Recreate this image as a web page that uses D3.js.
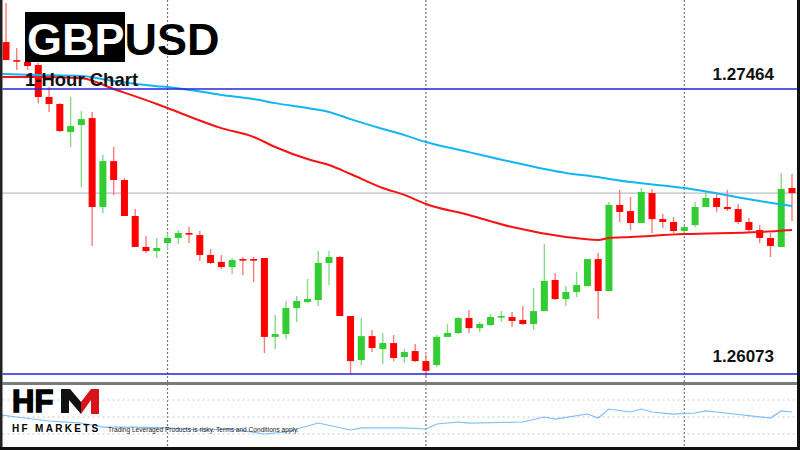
<!DOCTYPE html>
<html>
<head>
<meta charset="utf-8">
<script src="https://cdn.jsdelivr.net/npm/d3@7"></script>
<style>
  html, body { margin: 0; padding: 0; background: #fff; }
  svg { display: block; }
</style>
</head>
<body>
<svg id="chart" width="800" height="450"></svg>
<script>
// GBPUSD H1 candles
const opens = [
  1.27693, 1.27605, 1.27596, 1.27581, 1.27425, 1.27391, 1.27254, 1.27288, 1.27322, 1.26888,
  1.27112, 1.27020, 1.26844, 1.26693, 1.26673, 1.26712, 1.26737, 1.26761, 1.26751, 1.26654,
  1.26620, 1.26595, 1.26634, 1.26634, 1.26639, 1.26254, 1.26268, 1.26395, 1.26424, 1.26434,
  1.26615, 1.26644, 1.26356, 1.26141, 1.26258, 1.26195, 1.26224, 1.26156, 1.26185, 1.26136,
  1.26117, 1.26254, 1.26273, 1.26346, 1.26297, 1.26312, 1.26351, 1.26351, 1.26337, 1.26317,
  1.26380, 1.26532, 1.26439, 1.26473, 1.26502, 1.26634, 1.26478, 1.26898, 1.26868, 1.26810,
  1.26956, 1.26829, 1.26815, 1.26771, 1.26800, 1.26888, 1.26932, 1.26888, 1.26878, 1.26815,
  1.26776, 1.26737, 1.26693, 1.26981
];
const highs = [
  1.27884, 1.27664, 1.27625, 1.27591, 1.27474, 1.27395, 1.27425, 1.27356, 1.27352, 1.27142,
  1.27181, 1.27030, 1.26878, 1.26746, 1.26737, 1.26761, 1.26776, 1.26790, 1.26771, 1.26683,
  1.26654, 1.26639, 1.26644, 1.26644, 1.26639, 1.26361, 1.26429, 1.26454, 1.26537, 1.26673,
  1.26673, 1.26649, 1.26356, 1.26346, 1.26288, 1.26273, 1.26263, 1.26195, 1.26219, 1.26166,
  1.26263, 1.26317, 1.26351, 1.26385, 1.26327, 1.26366, 1.26380, 1.26376, 1.26405, 1.26493,
  1.26707, 1.26566, 1.26502, 1.26571, 1.26634, 1.26663, 1.26912, 1.26971, 1.26937, 1.26981,
  1.26976, 1.26854, 1.26839, 1.26795, 1.26912, 1.26966, 1.26956, 1.26971, 1.26903, 1.26834,
  1.26800, 1.26761, 1.27054, 1.27049
];
const lows = [
  1.27605, 1.27557, 1.27557, 1.27395, 1.27352, 1.27254, 1.27181, 1.26986, 1.26698, 1.26859,
  1.26947, 1.26844, 1.26693, 1.26663, 1.26639, 1.26678, 1.26707, 1.26712, 1.26624, 1.26610,
  1.26585, 1.26561, 1.26556, 1.26522, 1.26175, 1.26195, 1.26244, 1.26327, 1.26420, 1.26405,
  1.26507, 1.26356, 1.26073, 1.26117, 1.26180, 1.26122, 1.26136, 1.26127, 1.26132, 1.26058,
  1.26107, 1.26254, 1.26268, 1.26273, 1.26278, 1.26307, 1.26327, 1.26302, 1.26312, 1.26288,
  1.26380, 1.26434, 1.26405, 1.26449, 1.26502, 1.26341, 1.26478, 1.26815, 1.26776, 1.26810,
  1.26761, 1.26786, 1.26761, 1.26761, 1.26790, 1.26888, 1.26864, 1.26868, 1.26805, 1.26766,
  1.26712, 1.26644, 1.26693, 1.26820
];
const closes = [
  1.27605, 1.27600, 1.27576, 1.27425, 1.27391, 1.27259, 1.27283, 1.27317, 1.26888, 1.27112,
  1.27020, 1.26844, 1.26693, 1.26673, 1.26688, 1.26737, 1.26761, 1.26756, 1.26654, 1.26615,
  1.26595, 1.26629, 1.26629, 1.26629, 1.26254, 1.26268, 1.26395, 1.26429, 1.26439, 1.26615,
  1.26644, 1.26356, 1.26136, 1.26258, 1.26200, 1.26224, 1.26151, 1.26180, 1.26136, 1.26088,
  1.26254, 1.26273, 1.26346, 1.26297, 1.26317, 1.26351, 1.26356, 1.26332, 1.26317, 1.26380,
  1.26527, 1.26439, 1.26473, 1.26507, 1.26634, 1.26478, 1.26898, 1.26864, 1.26810, 1.26961,
  1.26829, 1.26815, 1.26771, 1.26790, 1.26888, 1.26932, 1.26888, 1.26878, 1.26815, 1.26776,
  1.26737, 1.26698, 1.26976, 1.26956
];

// moving averages, sampled at candle positions
const maIdx = [-0.4, 3, 7, 10, 14, 15, 20, 23, 25, 28, 30, 32, 35, 37, 39, 43, 47, 52, 55, 56, 58, 63, 70, 73];
const maFast = [1.27522, 1.27522, 1.27517, 1.27464, 1.27391, 1.27371, 1.27273, 1.27230, 1.27181, 1.27122, 1.27093, 1.27049,
  1.26981, 1.26947, 1.26903, 1.26849, 1.26790, 1.26742, 1.26727, 1.26737, 1.26742, 1.26756, 1.26766, 1.26776];
const maSlow = [1.27537, 1.27532, 1.27527, 1.27503, 1.27478, 1.27474, 1.27435, 1.27415, 1.27395, 1.27371, 1.27352, 1.27317,
  1.27269, 1.27239, 1.27205, 1.27156, 1.27108, 1.27054, 1.27034, 1.27025, 1.27010, 1.26981, 1.26917, 1.26893];

// lower oscillator panel
const oscIdx = [-0.5, 1, 4, 7, 9, 12, 15, 18, 21, 24, 26, 27, 29, 32, 33, 37, 39, 40, 42, 43,
  48, 50, 51, 54, 55, 56, 58, 59, 60, 62, 64, 65, 66, 71, 72, 73];
const osc = [52.4, 50, 45.3, 42.9, 38.2, 38.2, 37.1, 34.7, 35.9, 30, 32.4, 35.9, 42.9, 34.7, 37.1, 37.1, 35.9, 41.8, 44.1, 42.9,
  44.1, 50, 47.6, 53.5, 48.8, 59.4, 55.9, 59.4, 55.9, 53.5, 54.7, 57.1, 55.9, 48.8, 57.1, 55.9];
const oscLevels = [70, 50, 30];

const levels = [1.27464, 1.26073];
const levelLabels = ['1.27464', '1.26073'];
const lastPrice = 1.26956;
const sessionBreaks = [15, 39, 63];

const svg = d3.select('#chart');
const W = 800, H = 450;
const left = 2.5, right = 797, panelTop = 382, bottom = 447;

const x = d3.scaleLinear().domain([0, opens.length - 1]).range([6, 792]);
const y = d3.scaleLinear().domain([1.26073, 1.27464]).range([374, 89]);
const yOsc = d3.scaleLinear().domain([30, 70]).range([434, 400]);

svg.append('rect').attr('width', W).attr('height', H).attr('fill', '#fff');

svg.append('defs').append('clipPath').attr('id', 'main')
  .append('rect').attr('x', left).attr('y', 0).attr('width', right - left).attr('height', panelTop);

// session separators
svg.append('g')
  .selectAll('line')
  .data(sessionBreaks)
  .join('line')
  .attr('x1', d => x(d)).attr('x2', d => x(d))
  .attr('y1', 0).attr('y2', bottom)
  .attr('stroke', '#777')
  .attr('stroke-width', 1.2)
  .attr('stroke-dasharray', '2,2');

// oscillator levels
svg.append('g')
  .selectAll('line')
  .data(oscLevels)
  .join('line')
  .attr('x1', left).attr('x2', right)
  .attr('y1', d => yOsc(d)).attr('y2', d => yOsc(d))
  .attr('stroke', '#c8c8c8')
  .attr('stroke-dasharray', '2,3');

// last price line
svg.append('line')
  .attr('x1', left).attr('x2', right)
  .attr('y1', y(lastPrice)).attr('y2', y(lastPrice))
  .attr('stroke', '#a9b0b8');

const main = svg.append('g').attr('clip-path', 'url(#main)');

// candles
const idx = d3.range(opens.length);
const up = i => closes[i] >= opens[i];

main.append('g')
  .selectAll('line')
  .data(idx)
  .join('line')
  .attr('x1', i => x(i)).attr('x2', i => x(i))
  .attr('y1', i => y(highs[i])).attr('y2', i => y(lows[i]))
  .attr('stroke', i => up(i) ? '#86dc86' : '#ff7a7a')
  .attr('stroke-width', 1.4);

main.append('g')
  .selectAll('rect')
  .data(idx)
  .join('rect')
  .attr('x', i => x(i) - 3.5)
  .attr('width', 7)
  .attr('y', i => y(Math.max(opens[i], closes[i])))
  .attr('height', i => Math.max(1.6, Math.abs(y(opens[i]) - y(closes[i]))))
  .attr('fill', i => up(i) ? '#32cd32' : '#ff0000');

// moving averages
const maLine = d3.line()
  .x((d, i) => x(maIdx[i]))
  .y(d => y(d))
  .curve(d3.curveMonotoneX);

main.append('path')
  .attr('d', maLine(maSlow))
  .attr('fill', 'none')
  .attr('stroke', '#14b4f5')
  .attr('stroke-width', 2);

main.append('path')
  .attr('d', maLine(maFast))
  .attr('fill', 'none')
  .attr('stroke', '#f51414')
  .attr('stroke-width', 2);

// support / resistance levels
svg.append('g')
  .selectAll('line')
  .data(levels)
  .join('line')
  .attr('x1', left).attr('x2', right)
  .attr('y1', d => y(d)).attr('y2', d => y(d))
  .attr('stroke', '#2424d8')
  .attr('stroke-width', 1.5);

svg.append('g')
  .attr('font-family', 'Liberation Sans, Arial, sans-serif')
  .attr('font-weight', 'bold')
  .attr('font-size', 17)
  .attr('text-anchor', 'end')
  .attr('fill', '#111')
  .selectAll('text')
  .data(levels)
  .join('text')
  .attr('x', 774)
  .attr('y', (d, i) => y(d) - (i ? 12 : 9.5))
  .text((d, i) => levelLabels[i]);

// oscillator line
svg.append('path')
  .attr('d', d3.line().x((d, i) => x(oscIdx[i])).y(d => yOsc(d))(osc))
  .attr('fill', 'none')
  .attr('stroke', '#7fbdf7')
  .attr('stroke-width', 1.2);

// panel separator and frame
svg.append('rect').attr('x', left).attr('y', panelTop).attr('width', right - left).attr('height', 3).attr('fill', '#7b7b7b');
svg.append('rect').attr('x', 0).attr('y', 0).attr('width', left).attr('height', H).attr('fill', '#222');
svg.append('rect').attr('x', right).attr('y', 0).attr('width', W - right).attr('height', H).attr('fill', '#111');
svg.append('rect').attr('x', 0).attr('y', bottom).attr('width', W).attr('height', H - bottom).attr('fill', '#111');

// title
const title = svg.append('g').attr('font-family', 'Liberation Sans, Arial, sans-serif').attr('font-weight', 'bold');
title.append('rect').attr('x', 25).attr('y', 12).attr('width', 100).attr('height', 50).attr('fill', '#000');
title.append('text')
  .attr('x', 27).attr('y', 55)
  .attr('font-size', 45)
  .call(t => t.append('tspan').attr('fill', '#fff').text('GBP'))
  .call(t => t.append('tspan').attr('fill', '#000').text('USD'));
title.append('text')
  .attr('x', 25).attr('y', 86)
  .attr('font-size', 18.5)
  .attr('fill', '#111')
  .text('1-Hour Chart');

// HFM logo
const logo = svg.append('g').attr('font-family', 'Liberation Sans, Arial, sans-serif').attr('font-weight', 'bold');
logo.append('text')
  .attr('x', 12).attr('y', 412)
  .attr('font-size', 31)
  .attr('fill', '#000')
  .attr('stroke', '#000')
  .attr('stroke-width', 1.4)
  .text('HF');
logo.append('path')
  .attr('d', 'M61,389 L70,389 L81,402 L81,414 L69,400 L69,413 L61,413 Z')
  .attr('fill', '#111');
logo.append('path')
  .attr('d', 'M81,402 L91,389 L99,389 L99,414 L91,414 L91,400 L81,414 Z')
  .attr('fill', '#d7141a');
logo.append('text')
  .attr('x', 12).attr('y', 432)
  .attr('font-size', 10)
  .attr('letter-spacing', 2.3)
  .attr('fill', '#000')
  .text('HF MARKETS');
svg.append('text')
  .attr('x', 108).attr('y', 432)
  .attr('font-family', 'Liberation Sans, Arial, sans-serif')
  .attr('font-size', 6.6)
  .attr('fill', '#222')
  .text('Trading Leveraged Products is risky. Terms and Conditions apply.');
</script>
</body>
</html>
